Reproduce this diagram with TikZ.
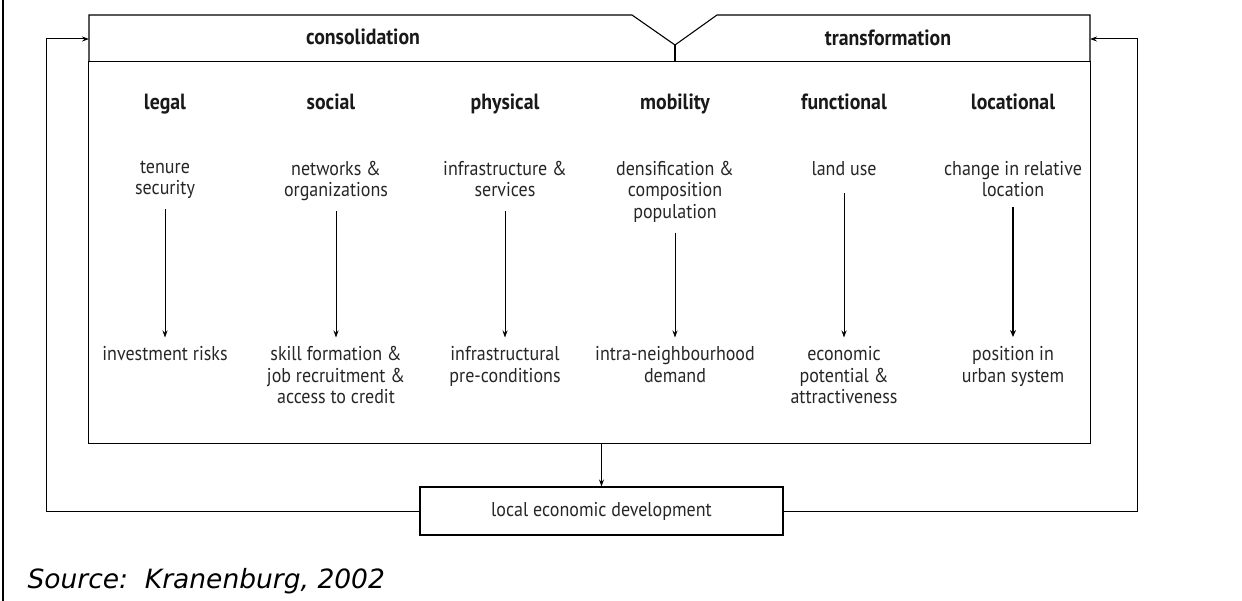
\documentclass[tikz,border=0pt]{standalone}
\usepackage{fontspec}
\setmainfont{PT Sans}[FakeStretch=0.9]
\newfontfamily\srcfont{DejaVu Sans}
\usetikzlibrary{arrows.meta}

\begin{document}
\begin{tikzpicture}[x=1pt,y=-1pt,
  line width=1.1pt,
  txt/.style={inner sep=0pt, align=center, text=black!85,
    font=\fontsize{20}{21.5}\selectfont,
    execute at begin node=\vphantom{Ag},
    execute at end node=\vphantom{Ag}},
  ttl/.style={inner sep=0pt, text=black!90,
    font=\bfseries\fontsize{22}{24}\selectfont},
  flow/.style={-{Stealth[length=7pt,width=5pt]}, line width=0.9pt},
  heavy/.style={-{Stealth[length=7pt,width=6pt]}, line width=2.4pt},
  feed/.style={-{Stealth[length=7pt,width=5pt]}, line width=1pt},
  link/.style={flow, shorten <=9.5pt, shorten >=8.5pt},
  ledbox/.style={draw, minimum width=363pt, minimum height=48pt, inner sep=0pt,
    font=\fontsize{20}{22}\selectfont, text=black!85}
]
\useasboundingbox (0,0) rectangle (1242,601);

% page rule on the left
\draw (3,0) -- (3,601);

% body frame and header with the notch
\node[inner sep=0pt, minimum width=1001pt, minimum height=381pt] (body) at (589.5,252.5) {};
\draw (body.north west) rectangle (body.south east);
\draw (89,62) -- (89,15) -- (632,15) -- (675,45) -- (717,15) -- (1090,15) -- (1090,62);
\draw (675,45) -- (675,62);
\coordinate (hl) at (89,39);
\coordinate (hr) at (1090,39);

\node[ttl] (cons) at (363,37) {consolidation};
\node[ttl] (trans) at (888,38) {transformation};

% column titles
\node[ttl, anchor=base] (c1) at (165,110) {legal};
\node[ttl, anchor=base] (c2) at (331,110) {social};
\node[ttl, anchor=base] (c3) at (505,110) {physical};
\node[ttl, anchor=base] (c4) at (675,110) {mobility};
\node[ttl, anchor=base] (c5) at (844,110) {functional};
\node[ttl, anchor=base] (c6) at (1013,110) {locational};

% causes
\node[txt, anchor=north] (t1) at (165,160.5) {tenure\\security};
\node[txt, anchor=north] (t2) at (336,160.5) {networks \&\\organizations};
\node[txt, anchor=north] (t3) at (505,160.5) {infrastructure \&\\services};
\node[txt, anchor=north] (t4) at (675,160.5) {densification \&\\composition\\population};
\node[txt, anchor=north] (t5) at (844,160.5) {land use};
\node[txt, anchor=north] (t6) at (1013,160.5) {change in relative\\location};

% effects
\node[txt, anchor=north] (b1) at (165,346) {investment risks};
\node[txt, anchor=north] (b2) at (336,346) {skill formation \&\\job recruitment \&\\access to credit};
\node[txt, anchor=north] (b3) at (505,346) {infrastructural\\pre-conditions};
\node[txt, anchor=north] (b4) at (675,346) {intra-neighbourhood\\demand};
\node[txt, anchor=north] (b5) at (844,346) {economic\\potential \&\\attractiveness};
\node[txt, anchor=north] (b6) at (1013,346) {position in\\urban system};

\draw[link] (t1) -- (b1);
\draw[link] (t2) -- (b2);
\draw[link] (t3) -- (b3);
\draw[link] (t4) -- (b4);
\draw[link, shorten <=13pt] (t5) -- (b5);
\draw[heavy, shorten <=6pt, shorten >=9pt] (t6) -- (b6);

% outcome and feedback loops
\node[ledbox] (led) at (601.5,511) {local economic development};
\draw[flow] (led.north |- body.south) -- (led.north);
\draw[feed] (led.west) -- ++(-373,0) |- (hl);
\draw[feed] (led.east) -- ++(354,0) |- (hr);

\node[anchor=base west, inner sep=0pt, font=\srcfont\itshape\fontsize{26.5}{30}\selectfont] (src) at (27,588) {Source:\ \ Kranenburg, 2002};
\end{tikzpicture}
\end{document}
